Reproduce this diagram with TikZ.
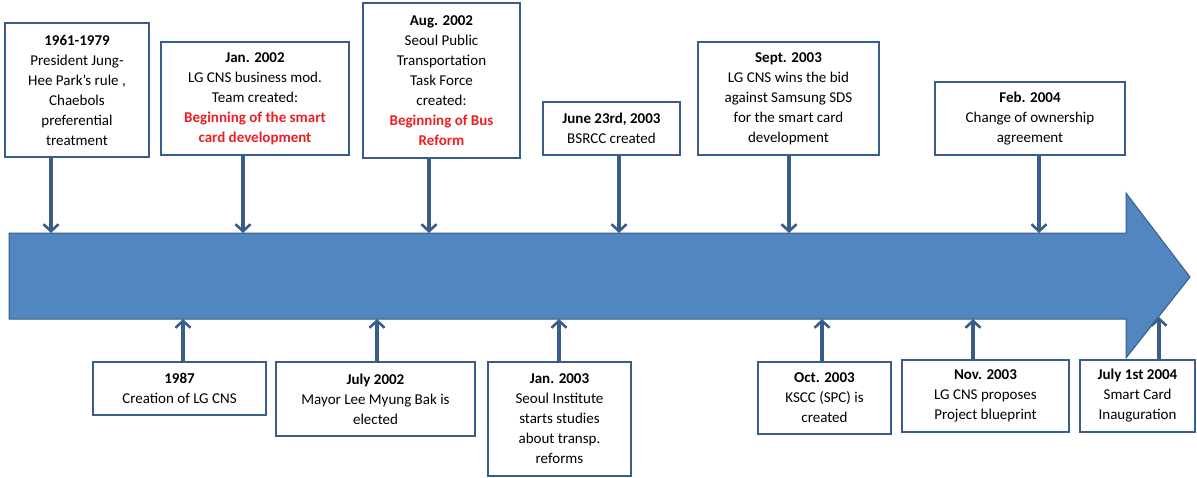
\documentclass[tikz,border=0pt]{standalone}
\usepackage{fontspec}
\setmainfont{Carlito}
\usepackage{xcolor}
\usetikzlibrary{arrows.meta,positioning,calc}
\definecolor{barblue}{RGB}{82,134,192}
\definecolor{edgeblue}{RGB}{56,93,138}
\definecolor{reform}{RGB}{236,32,36}

\begin{document}
\begin{tikzpicture}[
    x=1pt, y=-1pt,
    event/.style={draw=edgeblue, line width=2pt, fill=white, align=center, inner sep=2pt, font=\fontsize{15}{20}\selectfont},
    tick/.style={-{Straight Barb[length=7pt,width=15pt,line width=2.6pt]}, draw=edgeblue, line width=3.2pt},
    hot/.style={font=\bfseries, text=reform}
]
    \useasboundingbox (0,0) rectangle (1197,477);

    % Time bar
    \draw[fill=barblue, draw=edgeblue, line width=1pt]
        (9,233) -- (1126,233) -- (1126,193) -- (1190,277) -- (1126,358) -- (1126,319) -- (9,319) -- cycle;

    % Points on the bar
    \coordinate (p1) at (51,233);
    \coordinate (p2) at (243,233);
    \coordinate (p3) at (429,233);
    \coordinate (p4) at (619,233);
    \coordinate (p5) at (789,233);
    \coordinate (p6) at (1039,233);
    \coordinate (q1) at (183,319);
    \coordinate (q2) at (377,319);
    \coordinate (q3) at (559,319);
    \coordinate (q4) at (822,319);
    \coordinate (q5) at (973,319);
    \coordinate (q6) at (1159,317);

    % Events above
    \node[event, minimum width=144pt, minimum height=134pt] (t1) at (77,90)
        {\textbf{1961-1979}\\President Jung-\\Hee Park’s rule ,\\Chaebols\\preferential\\treatment};
    \node[event, minimum width=188pt, minimum height=113pt] (t2) at (255,98.5)
        {\textbf{Jan. 2002}\\LG CNS business mod.\\Team created:\\{\color{reform}\textbf{Beginning of the smart}}\\{\color{reform}\textbf{card development}}};
    \node[event, minimum width=157pt, minimum height=155pt] (t3) at (441.5,80.5)
        {\textbf{Aug. 2002}\\Seoul Public\\Transportation\\Task Force\\created:\\{\color{reform}\textbf{Beginning of Bus}}\\{\color{reform}\textbf{Reform}}};
    \node[event, minimum width=137pt, minimum height=53pt] (t4) at (611.5,128.5)
        {\textbf{June 23rd, 2003}\\BSRCC created};
    \node[event, minimum width=181pt, minimum height=113pt] (t5) at (788.5,98.5)
        {\textbf{Sept. 2003}\\LG CNS wins the bid\\against Samsung SDS\\for the smart card\\development};
    \node[event, minimum width=190pt, minimum height=73pt] (t6) at (1030,118.5)
        {\textbf{Feb. 2004}\\Change of ownership\\agreement};

    % Events below
    \node[event, minimum width=173pt, minimum height=53pt] (b1) at (179.5,388.5)
        {\textbf{1987}\\Creation of LG CNS};
    \node[event, minimum width=199pt, minimum height=74pt] (b2) at (375.5,399)
        {\textbf{July 2002}\\Mayor Lee Myung Bak is\\elected};
    \node[event, minimum width=143pt, minimum height=114pt] (b3) at (559.5,419)
        {\textbf{Jan. 2003}\\Seoul Institute\\starts studies\\about transp.\\reforms};
    \node[event, minimum width=133pt, minimum height=72pt] (b4) at (824.5,398)
        {\textbf{Oct. 2003}\\KSCC (SPC) is\\created};
    \node[event, minimum width=167pt, minimum height=72pt] (b5) at (985.5,396)
        {\textbf{Nov. 2003}\\LG CNS proposes\\Project blueprint};
    \node[event, minimum width=115pt, minimum height=72pt] (b6) at (1137.5,396)
        {\textbf{July 1st 2004}\\Smart Card\\Inauguration};

    % Connections
    \draw[tick] (t1.south -| p1) -- (p1);
    \draw[tick] (t2.south -| p2) -- (p2);
    \draw[tick] (t3.south -| p3) -- (p3);
    \draw[tick] (t4.south -| p4) -- (p4);
    \draw[tick] (t5.south -| p5) -- (p5);
    \draw[tick] (t6.south -| p6) -- (p6);
    \draw[tick] (b1.north -| q1) -- (q1);
    \draw[tick] (b2.north -| q2) -- (q2);
    \draw[tick] (b3.north -| q3) -- (q3);
    \draw[tick] (b4.north -| q4) -- (q4);
    \draw[tick] (b5.north -| q5) -- (q5);
    \draw[tick] (b6.north -| q6) -- (q6);
\end{tikzpicture}
\end{document}
